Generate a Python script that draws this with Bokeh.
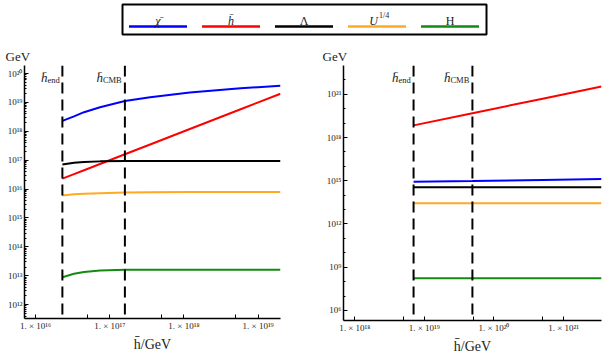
from bokeh.plotting import figure
from bokeh.layouts import column, row
from bokeh.models import Range1d, FixedTicker, Span, Label
from bokeh.core.properties import value
from bokeh.embed import file_html
from bokeh.resources import INLINE

FONT = "Liberation Serif"

# ---------------- data ----------------
legend_names = ["χ̄", "h̄", "Λ", "U", "H"]
legend_styles = ["italic", "italic", "normal", "italic", "normal"]
series_colors = ["#0000ff", "#ff0000", "#000000", "#ffaa22", "#138a13"]

# left panel
h_left = [2.3e16, 3.3e16, 4.5e16, 7.4e16, 1.6e17, 3.5e17, 1.2e18, 5.8e18, 2.0e19]
chi_left = [2.3e18, 3.3e18, 4.6e18, 6.8e18, 1.12e19, 1.5e19, 2.2e19, 3.1e19, 3.8e19]
hbar_left = [2.3e16, 3.3e16, 4.5e16, 7.4e16, 1.6e17, 3.5e17, 1.2e18, 5.8e18, 2.0e19]
lam_left = [7.1e16, 8.1e16, 8.7e16, 9.1e16, 9.3e16, 9.3e16, 9.3e16, 9.3e16, 9.3e16]
u_left = [6.0e15, 6.6e15, 6.9e15, 7.2e15, 7.6e15, 7.8e15, 7.9e15, 7.9e15, 7.9e15]
H_left = [8.9e12, 1.17e13, 1.35e13, 1.51e13, 1.62e13, 1.62e13, 1.62e13, 1.62e13, 1.62e13]

# right panel
h_right = [7.0e18, 4.9e19, 5.0e20, 3.5e21]
chi_right = [8.7e14, 9.5e14, 1.12e15, 1.32e15]
hbar_right = [7.0e18, 4.9e19, 5.0e20, 3.5e21]
lam_right = [3.5e14, 3.5e14, 3.5e14, 3.5e14]
u_right = [2.8e13, 2.8e13, 2.8e13, 2.8e13]
H_right = [1.74e8, 1.74e8, 1.74e8, 1.74e8]

# vertical markers (h_end, h_CMB)
mark_names = ["end", "CMB"]
marks_left = [2.3e16, 1.6e17]
marks_right = [7.0e18, 4.9e19]

# axes
left_xrange = (7.1e15, 2.0e19)
left_yrange = (3.3e11, 1.9e20)
right_xrange = (6.9e17, 3.5e21)
right_yrange = (2.0e5, 1.0e23)

left_x_ticks = [1e16, 1e17, 1e18, 1e19]
left_x_labels = ["1. × 10¹⁶", "1. × 10¹⁷", "1. × 10¹⁸", "1. × 10¹⁹"]
left_x_minor = [5e15, 5e16, 5e17, 5e18]
left_y_ticks = [1e12, 1e13, 1e14, 1e15, 1e16, 1e17, 1e18, 1e19, 1e20]
left_y_labels = ["10¹²", "10¹³", "10¹⁴", "10¹⁵", "10¹⁶", "10¹⁷", "10¹⁸", "10¹⁹", "10²⁰"]

right_x_ticks = [1e18, 1e19, 1e20, 1e21]
right_x_labels = ["1. × 10¹⁸", "1. × 10¹⁹", "1. × 10²⁰", "1. × 10²¹"]
right_x_minor = [5e17, 5e18, 5e19, 5e20]
right_y_ticks = [1e6, 1e9, 1e12, 1e15, 1e18, 1e21]
right_y_labels = ["10⁶", "10⁹", "10¹²", "10¹⁵", "10¹⁸", "10²¹"]


def make_panel(fw, fh, bl, br, bt, bb, xr, yr, xs, ys_list, marks,
               xt, xl, xm, yt, yl, ym, gev_dx):
    p = figure(frame_width=fw, frame_height=fh, x_axis_type="log", y_axis_type="log",
               x_range=Range1d(*xr), y_range=Range1d(*yr),
               output_backend="svg", toolbar_location=None,
               min_border_left=bl, min_border_right=br,
               min_border_top=bt, min_border_bottom=bb)
    p.grid.visible = False
    p.outline_line_color = None
    p.background_fill_color = "white"
    p.border_fill_color = "white"

    p.title.text = "GeV"
    p.title.align = "left"
    p.title.offset = gev_dx
    p.title.standoff = 3
    p.title.text_font = FONT
    p.title.text_font_size = "13px"
    p.title.text_font_style = "normal"
    p.title.text_color = "#222222"

    for ys, c in zip(ys_list, series_colors):
        p.line(xs, ys, line_color=c, line_width=2)

    for i, m in enumerate(marks):
        p.add_layout(Span(location=m, dimension="height", line_color="black",
                          line_width=2, line_dash="11 6"))
        subw = 12 if mark_names[i] == "end" else 19
        p.add_layout(Label(x=m, y=yr[1], x_offset=-(3 + subw), y_offset=-12,
                           text="h̄", text_align="right", text_baseline="alphabetic",
                           text_font=FONT, text_font_size="13px",
                           text_font_style="italic", text_color="#222222"))
        p.add_layout(Label(x=m, y=yr[1], x_offset=-(3 + subw), y_offset=-14,
                           text=mark_names[i], text_align="left",
                           text_baseline="alphabetic",
                           text_font=FONT, text_font_size="8.5px",
                           text_color="#222222"))

    for ax in (p.xaxis[0], p.yaxis[0]):
        ax.axis_line_width = 1.5
        ax.axis_line_color = "black"
        ax.major_tick_in = 4
        ax.major_tick_out = 0
        ax.minor_tick_out = 0
        ax.major_tick_line_color = "black"
        ax.minor_tick_line_color = "black"
        ax.major_label_text_font = FONT
        ax.major_label_text_font_size = "9px"
        ax.major_label_text_color = "#222222"

    p.xaxis.ticker = FixedTicker(ticks=xt, minor_ticks=xm)
    p.xaxis.major_label_overrides = dict(zip(xt, xl))
    p.xaxis.minor_tick_in = 4
    p.xaxis.major_label_standoff = 2
    p.xaxis.axis_label = "h̄/GeV"
    p.xaxis.axis_label_text_font = FONT
    p.xaxis.axis_label_text_font_size = "14px"
    p.xaxis.axis_label_text_font_style = "normal"
    p.xaxis.axis_label_text_color = "#222222"
    p.xaxis.axis_label_standoff = 3

    p.yaxis.ticker = FixedTicker(ticks=yt, minor_ticks=ym)
    p.yaxis.major_label_overrides = dict(zip(yt, yl))
    p.yaxis.minor_tick_in = 2
    p.yaxis.major_label_standoff = 2
    p.yaxis.major_label_orientation = "horizontal"
    return p


left_y_minor = [m * 10.0 ** k for k in range(11, 21) for m in range(2, 10)]
right_y_minor = [10.0 ** k for k in range(5, 24) if k % 3 != 0]

p1 = make_panel(256, 253, 24, 20, 27, 35, left_xrange, left_yrange, h_left,
                [chi_left, hbar_left, lam_left, u_left, H_left], marks_left,
                left_x_ticks, left_x_labels, left_x_minor,
                left_y_ticks, left_y_labels, left_y_minor, -19)
p2 = make_panel(258, 255, 43, 4, 25, 35, right_xrange, right_yrange, h_right,
                [chi_right, hbar_right, lam_right, u_right, H_right], marks_right,
                right_x_ticks, right_x_labels, right_x_minor,
                right_y_ticks, right_y_labels, right_y_minor, -21)

# ---------------- legend strip ----------------
lg = figure(width=605, height=38, x_range=Range1d(0, 605), y_range=Range1d(0, 38),
            x_axis_type=None, y_axis_type=None, output_backend="svg",
            toolbar_location=None, min_border=0)
lg.grid.visible = False
lg.outline_line_color = None
lg.quad(left=122, right=486, bottom=4, top=34, fill_color=None,
        line_color="black", line_width=2)
cx = [157.5 + 73 * i for i in range(len(legend_names))]
lg.segment(x0=[c - 29 for c in cx], x1=[c + 29 for c in cx], y0=[12] * 5, y1=[12] * 5,
           line_color=series_colors, line_width=2.5)
lg.text(x=cx[:3] + cx[4:], y=[18] * 4,
        text=legend_names[:3] + legend_names[4:],
        text_font_style=legend_styles[:3] + legend_styles[4:],
        text_align="center", text_baseline="alphabetic",
        text_font=value(FONT), text_font_size="12px", text_color="#222222")
lg.text(x=[cx[3] + 1], y=[18], text=[legend_names[3]], text_font_style="italic",
        text_align="right", text_baseline="alphabetic",
        text_font=value(FONT), text_font_size="12px", text_color="#222222")
lg.text(x=[cx[3] + 2], y=[23], text=["1/4"], text_align="left",
        text_baseline="alphabetic", text_font=value(FONT),
        text_font_size="8px", text_color="#222222")

layout = column(lg, row(p1, p2))
open("out.html", "w").write(file_html(layout, INLINE))
